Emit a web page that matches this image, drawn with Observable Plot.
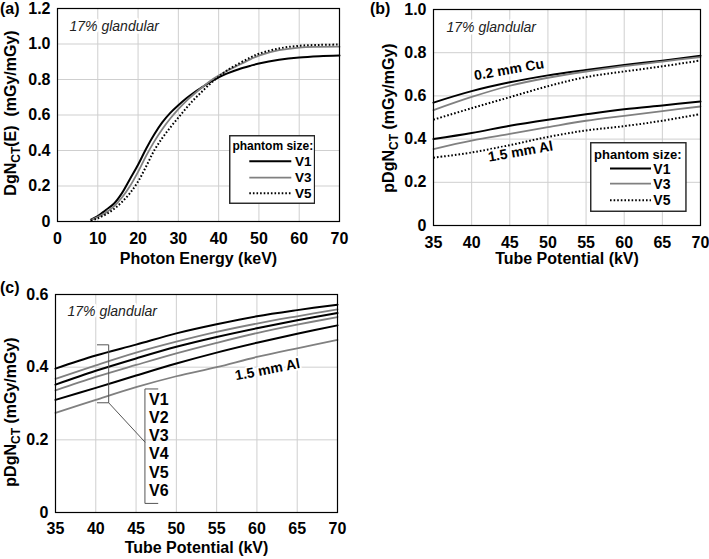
<!DOCTYPE html>
<html><head><meta charset="utf-8">
<script src="https://cdn.jsdelivr.net/npm/d3@7"></script>
<script src="https://cdn.jsdelivr.net/npm/@observablehq/plot@0.6"></script>
<style>
body{margin:0;background:#fff;}
#root{position:relative;width:709px;height:559px;overflow:hidden;font-family:"Liberation Sans",Arial,Helvetica,sans-serif;color:#000;}
.plabel{position:absolute;font-weight:bold;font-size:16px;line-height:16px;}
</style>
</head><body><div id="root"></div>
<script>
// ---------- data ----------
// Panel (a): photon energy (keV)
const energyA = [8.3,10,12,14,16,18,20,22,24,26,28,30,32,34,36,38,40,42,45,48,50,55,60,65,70];
const aV1 = [0.01,0.03,0.065,0.10,0.16,0.24,0.32,0.41,0.49,0.558,0.612,0.655,0.694,0.728,0.758,0.787,0.812,0.833,0.858,0.878,0.89,0.911,0.924,0.931,0.935];
const aV3 = [0.008,0.025,0.05,0.085,0.135,0.2,0.28,0.37,0.45,0.52,0.58,0.633,0.68,0.72,0.758,0.793,0.822,0.848,0.882,0.915,0.935,0.965,0.98,0.984,0.985];
const aV5 = [0.005,0.018,0.04,0.07,0.11,0.16,0.225,0.31,0.4,0.47,0.53,0.585,0.64,0.69,0.735,0.778,0.815,0.85,0.89,0.925,0.945,0.975,0.99,0.995,0.997];
// Panel (b) & (c): tube potential (kV)
const kv = [35,40,45,50,55,60,65,70];
const cuV1 = [0.569,0.622,0.663,0.695,0.72,0.743,0.763,0.786];
const cuV3 = [0.534,0.595,0.647,0.684,0.713,0.738,0.759,0.78];
const cuV5 = [0.49,0.543,0.594,0.645,0.687,0.713,0.737,0.764];
const alV1 = [0.4,0.428,0.462,0.49,0.515,0.538,0.556,0.574];
const alV3 = [0.354,0.393,0.424,0.455,0.485,0.508,0.53,0.551];
const alV5 = [0.314,0.338,0.372,0.41,0.44,0.46,0.485,0.516];
const cV1 = [0.396,0.432,0.462,0.493,0.518,0.54,0.557,0.572];
const cV2 = [0.368,0.405,0.44,0.47,0.497,0.52,0.54,0.559];
const cV3 = [0.352,0.39,0.424,0.456,0.483,0.507,0.529,0.549];
const cV4 = [0.336,0.373,0.406,0.438,0.467,0.494,0.517,0.538];
const cV5 = [0.31,0.343,0.377,0.41,0.44,0.467,0.492,0.515];
const cV6 = [0.274,0.31,0.345,0.375,0.4,0.428,0.452,0.475];
// ticks
const xTicksA = [0,10,20,30,40,50,60,70];
const yTicksA = [0,0.2,0.4,0.6,0.8,1.0,1.2];
const xTicksB = [35,40,45,50,55,60,65,70];
const yTicksB = [0,0.2,0.4,0.6,0.8,1.0];
const yTicksC = [0,0.2,0.4,0.6];
// labels / annotations (data coordinates)
const legendLabels = ["V1","V3","V5"];
const cuLabel = {x:44.9, y:0.721, text:"0.2 mm Cu"};
const alLabelB = {x:46.4, y:0.342, text:"1.5 mm Al"};
const alLabelC = {x:61.3, y:0.393, text:"1.5 mm Al"};
const cNames = ["V1","V2","V3","V4","V5","V6"];
const cNameY = [0.31,0.26,0.21,0.16,0.11,0.059];
const cNameX = 46.6;
const bracket1 = [[40.2,0.4615],[41.6,0.4615],[41.6,0.302],[40.2,0.302]];
const connector = [[41.6,0.302],[46.1,0.194]];
const bracket2 = [[47.7,0.34],[46.1,0.34],[46.1,0.025],[47.7,0.025]];

// ---------- helpers ----------
const pts = (xs, ys) => xs.map((x,i)=>({x, y: ys[i]}));
const BLACK = {x:"x", y:"y", stroke:"#000", strokeWidth:2, curve:"catmull-rom"};
const GREY  = {x:"x", y:"y", stroke:"#808080", strokeWidth:1.8, curve:"catmull-rom"};
const DOT   = {x:"x", y:"y", stroke:"#000", strokeWidth:2, strokeDasharray:"1.6,2", strokeLinecap:"butt", curve:"catmull-rom"};
const fmt = d => d === 0 ? "0" : d.toFixed(1);
const FONT = "'Liberation Sans', Arial, Helvetica, sans-serif";
const root = document.getElementById("root");

function panel(o) {
  const svg = Plot.plot({
    width: o.w, height: o.h,
    marginLeft: o.ml, marginRight: o.mr, marginTop: o.mt, marginBottom: o.mb,
    x: {domain: o.xdom},
    y: {domain: o.ydom},
    style: {fontFamily: FONT, fontSize: "16px", fontWeight: "bold", color: "#000", background: "transparent", overflow: "visible"},
    marks: [
      Plot.gridX(o.xticks, {stroke: "#cfcfcf", strokeOpacity: 1, strokeWidth: 1}),
      Plot.gridY(o.yticks, {stroke: "#cfcfcf", strokeOpacity: 1, strokeWidth: 1}),
      ...o.marks,
      Plot.frame({stroke: "#000", strokeWidth: 1.2}),
      Plot.axisX(o.xticks, {tickSize: 0, tickPadding: o.xpad, label: null, fontSize: 16, fontWeight: "bold"}),
      Plot.axisY(o.yticks, {tickSize: 0, tickPadding: 7, label: null, tickFormat: fmt, fontSize: 16, fontWeight: "bold"}),
      Plot.text([o.xlabel], {frameAnchor: "bottom", dy: o.xlabDy, lineAnchor: "middle", fontSize: 16, fontWeight: "bold", text: d => d})
    ]
  });
  svg.style.position = "absolute";
  svg.style.left = o.left + "px";
  svg.style.top = o.top + "px";
  // y title with subscript
  const t = d3.select(svg).append("text")
    .attr("transform", `translate(${o.ycx},${o.ycy}) rotate(-90)`)
    .attr("text-anchor", "middle").attr("font-size", 16).attr("font-weight", "bold")
    .attr("fill", "#000").style("white-space", "pre");
  t.append("tspan").attr("dy", "0.35em").text(o.ytitle[0]);
  t.append("tspan").attr("dy", 4.5).attr("font-size", 12).text(o.ytitle[1]);
  t.append("tspan").attr("dy", -4.5).text(o.ytitle[2]);
  root.appendChild(svg);
  return svg;
}

function glandular(dx, dy) {
  return Plot.text(["17% glandular"], {frameAnchor: "top-left", dx, dy, textAnchor: "start", lineAnchor: "middle",
    fontStyle: "italic", fontWeight: "normal", fontSize: 14, fill: "#222", stroke: "white", strokeWidth: 5, text: d => d});
}

function legend(o) {
  const svg = d3.select(root).append("svg").attr("width", o.w).attr("height", o.h)
    .style("position","absolute").style("left", o.left+"px").style("top", o.top+"px")
    .style("font-family", FONT);
  svg.append("rect").attr("x",0.75).attr("y",0.75).attr("width",o.w-1.5).attr("height",o.h-1.5)
    .attr("fill","#fff").attr("stroke","#222").attr("stroke-width",1.4);
  svg.append("text").attr("x", o.titleX).attr("y", o.titleY).attr("dy","0.35em").attr("text-anchor","middle")
    .attr("font-weight","bold").attr("font-size", o.fs).text("phantom size:");
  const styles = [BLACK, GREY, DOT];
  legendLabels.forEach((lab, i) => {
    const s = styles[i];
    svg.append("line").attr("x1", o.lx1).attr("x2", o.lx2).attr("y1", o.rows[i]).attr("y2", o.rows[i])
      .attr("stroke", s.stroke).attr("stroke-width", s.strokeWidth).attr("stroke-dasharray", s.strokeDasharray || null);
    svg.append("text").attr("x", o.labX).attr("y", o.rows[i]).attr("dy","0.35em")
      .attr("font-weight","bold").attr("font-size", o.fs2).text(lab);
  });
}

function plabel(txt, left, top) {
  const d = document.createElement("div");
  d.className = "plabel"; d.textContent = txt;
  d.style.left = left + "px"; d.style.top = top + "px";
  root.appendChild(d);
}

// ---------- panel (a) ----------
panel({
  left: 0, top: 0, w: 355, h: 280, ml: 57, mr: 16, mt: 8, mb: 59,
  xdom: [0,70], ydom: [0,1.2], xticks: xTicksA, yticks: yTicksA, xpad: 11,
  xlabel: "Photon Energy (keV)", xlabDy: 37,
  ytitle: ["DgN", "CT", "(E)  (mGy/mGy)"], ycx: 10, ycy: 113,
  marks: [
    glandular(12, 18),
    Plot.line(pts(energyA, aV1), BLACK),
    Plot.line(pts(energyA, aV3), GREY),
    Plot.line(pts(energyA, aV5), DOT)
  ]
});
legend({left: 228.7, top: 135, w: 86.3, h: 69, titleX: 43.8, titleY: 10.7, fs: 12, fs2: 13.5,
  rows: [26.3, 42.7, 58.3], lx1: 20.3, lx2: 62.3, labX: 66});

// ---------- panel (b) ----------
panel({
  left: 355, top: 0, w: 354, h: 280, ml: 78, mr: 9, mt: 9, mb: 55,
  xdom: [35,70], ydom: [0,1], xticks: xTicksB, yticks: yTicksB, xpad: 11,
  xlabel: "Tube Potential (kV)", xlabDy: 33,
  ytitle: ["pDgN", "CT", " (mGy/mGy)"], ycx: 33, ycy: 118,
  marks: [
    glandular(13, 18),
    Plot.line(pts(kv, cuV1), BLACK),
    Plot.line(pts(kv, cuV3), GREY),
    Plot.line(pts(kv, cuV5), DOT),
    Plot.line(pts(kv, alV1), BLACK),
    Plot.line(pts(kv, alV3), GREY),
    Plot.line(pts(kv, alV5), DOT),
    Plot.text([cuLabel, alLabelB], {x: "x", y: "y", text: "text", rotate: -10, fontSize: 14, fontWeight: "bold",
      stroke: "white", strokeWidth: 4, fill: "#000"})
  ]
});
legend({left: 590, top: 141.7, w: 96.7, h: 70, titleX: 47.8, titleY: 12.3, fs: 13, fs2: 14,
  rows: [26.6, 41.6, 58.3], lx1: 20, lx2: 61, labX: 63.3});

// ---------- panel (c) ----------
panel({
  left: 0, top: 280, w: 355, h: 279, ml: 55, mr: 18, mt: 14, mb: 47,
  xdom: [35,70], ydom: [0,0.6], xticks: xTicksB, yticks: yTicksC, xpad: 10,
  xlabel: "Tube Potential (kV)", xlabDy: 35,
  ytitle: ["pDgN", "CT", " (mGy/mGy)"], ycx: 10, ycy: 132,
  marks: [
    glandular(12, 17),
    Plot.line(pts(kv, cV1), BLACK),
    Plot.line(pts(kv, cV2), GREY),
    Plot.line(pts(kv, cV3), BLACK),
    Plot.line(pts(kv, cV4), GREY),
    Plot.line(pts(kv, cV5), BLACK),
    Plot.line(pts(kv, cV6), GREY),
    Plot.line(bracket1, {x: d => d[0], y: d => d[1], stroke: "#555", strokeWidth: 1}),
    Plot.line(connector, {x: d => d[0], y: d => d[1], stroke: "#555", strokeWidth: 1}),
    Plot.line(bracket2, {x: d => d[0], y: d => d[1], stroke: "#555", strokeWidth: 1}),
    Plot.text(cNames, {x: () => cNameX, y: (d, i) => cNameY[i], text: d => d, textAnchor: "start",
      fontSize: 16, fontWeight: "bold", fill: "#000"}),
    Plot.text([alLabelC], {x: "x", y: "y", text: "text", rotate: -11, fontSize: 14, fontWeight: "bold",
      stroke: "white", strokeWidth: 4, fill: "#000"})
  ]
});

plabel("(a)", 0, 1);
plabel("(b)", 370, 1);
plabel("(c)", 0, 280);
</script>
</body></html>
